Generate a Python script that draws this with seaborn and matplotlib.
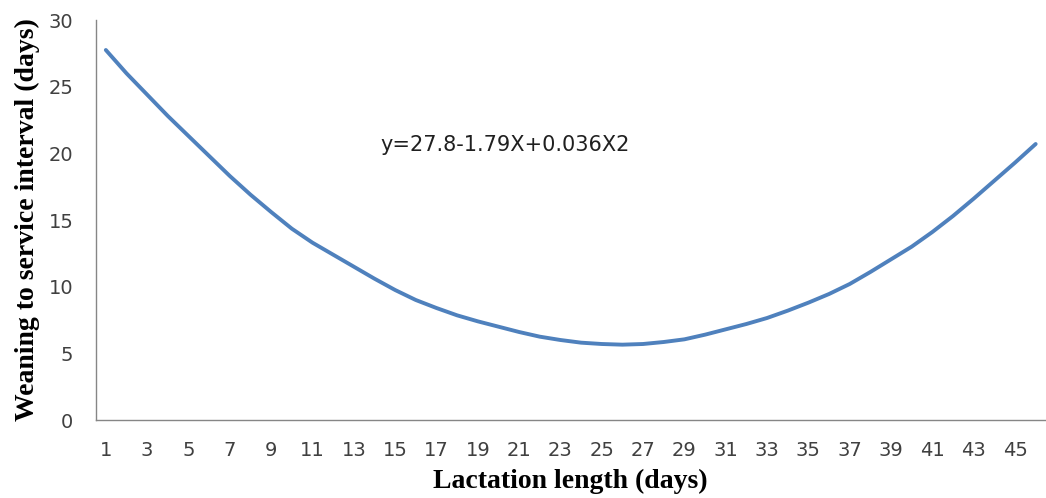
import numpy as np
import pandas as pd
import matplotlib
matplotlib.use("Agg")
import matplotlib.pyplot as plt
import seaborn as sns

# lactation length (days) and weaning-to-service interval
lactation_days = list(range(1, 47))
interval_days = [27.75, 26.0, 24.4, 22.8, 21.3, 19.8, 18.3, 16.9, 15.6, 14.35,
                 13.3, 12.4, 11.5, 10.6, 9.75, 9.0, 8.4, 7.85, 7.4, 7.0,
                 6.6, 6.25, 6.0, 5.8, 5.7, 5.65, 5.7, 5.85, 6.05, 6.4,
                 6.8, 7.2, 7.65, 8.2, 8.8, 9.45, 10.2, 11.1, 12.05, 13.0,
                 14.1, 15.3, 16.6, 17.95, 19.3, 20.7]
x_tick_labels = [str(d) for d in lactation_days if d % 2 == 1]
y_ticks = [0, 5, 10, 15, 20, 25, 30]
equation = "y=27.8-1.79X+0.036X2"

df = pd.DataFrame({"days": lactation_days, "interval": interval_days})

sns.set_style("white")
plt.rcParams["font.family"] = ["DejaVu Sans"]

W, H = 1046, 498
fig = plt.figure(figsize=(W / 100, H / 100), dpi=100)
ax = fig.add_axes([95.5 / W, (H - 420) / H, (W - 95.5) / W, 400 / H])

sns.lineplot(data=df, x="days", y="interval", ax=ax, color="#4F81BD",
             linewidth=2.8, solid_capstyle="round")

ax.set_xlim(0.5, 46.18)
ax.set_ylim(0, 30)

axis_grey = "#868686"
for side in ["top", "right"]:
    ax.spines[side].set_visible(False)
for side in ["left", "bottom"]:
    ax.spines[side].set_color(axis_grey)
    ax.spines[side].set_linewidth(1.0)

# category ticks sit between the categories, labels on odd days only
ax.set_xticks(np.arange(0.5, 46.6, 1.0))
ax.set_xticklabels([])
ax.set_xticks([d for d in lactation_days if d % 2 == 1], minor=True)
ax.set_xticklabels(x_tick_labels, minor=True)
ax.tick_params(axis="x", which="major", direction="out", length=6,
               color=axis_grey, width=1)
ax.tick_params(axis="x", which="minor", length=0, pad=15,
               labelsize=14, labelcolor="#404040")

ax.set_yticks(y_ticks)
ax.tick_params(axis="y", direction="out", length=6, color=axis_grey, width=1,
               pad=10, labelsize=14, labelcolor="#404040")

label_font = dict(family="Liberation Serif", weight="bold", size=20,
                  color="black")
ax.set_xlabel("Lactation length (days)", fontdict=label_font)
ax.set_ylabel("Weaning to service interval (days)", fontdict=label_font)
ax.xaxis.set_label_coords(0.5, -0.122)
ax.yaxis.set_label_coords(-0.058, 0.5)

ax.text(14.3, 20.6, equation, fontsize=15, color="#202020", va="center",
        ha="left")

fig.savefig("out.png", dpi=100)
